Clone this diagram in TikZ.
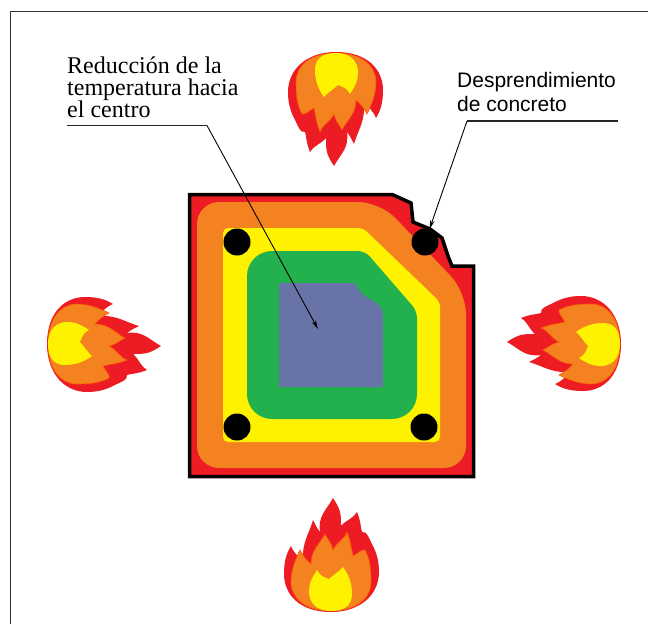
\documentclass[tikz,border=0pt]{standalone}
\usepackage{fontspec}
\setmainfont{Liberation Serif}
\newfontfamily\arialfont{Liberation Sans}
\usetikzlibrary{arrows.meta}

\definecolor{fuego}{HTML}{ED1C24}
\definecolor{naranja}{HTML}{F58220}
\definecolor{amarillo}{HTML}{FFF200}
\definecolor{verde}{HTML}{22B14C}
\definecolor{nucleo}{HTML}{6873A8}

\tikzset{
  flame/.pic={
    % outer tongues
    \fill[fuego] (0,0) .. controls +(-32,0) and +(0,20) .. (-47,-38)
      .. controls +(0,-12) and +(-5,8) .. (-40,-66)
      .. controls +(3,7) and +(-5,-3) .. (-28,-52)
      .. controls +(-1,-18) and +(-4,14) .. (-18,-92)
      .. controls +(3,6) and +(-3,-4) .. (-11,-80)
      .. controls +(-2,-16) and +(-8,14) .. (2,-114)
      .. controls +(8,12) and +(0,-12) .. (10,-86)
      .. controls +(5,-6) and +(-3,6) .. (26,-100)
      .. controls +(4,10) and +(-2,-8) .. (31,-80)
      .. controls +(5,-2) and +(-3,-5) .. (42,-66)
      .. controls +(4,8) and +(0,-10) .. (48,-40)
      .. controls +(0,22) and +(30,0) .. (0,0) -- cycle;
    % middle layer
    \fill[naranja, draw=orange!70!red, line width=0.6pt] (0,-1) .. controls +(-26,0) and +(0,16) .. (-40,-30)
      .. controls +(0,-12) and +(-4,8) .. (-31,-62)
      .. controls +(3,6) and +(-4,-3) .. (-20,-48)
      .. controls +(0,-14) and +(-5,10) .. (-6,-78)
      .. controls +(4,8) and +(-2,-8) .. (2,-62)
      .. controls +(4,-8) and +(-3,8) .. (16,-80)
      .. controls +(4,10) and +(-2,-8) .. (22,-56)
      .. controls +(5,-2) and +(-2,-6) .. (35,-60)
      .. controls +(4,8) and +(0,-12) .. (40,-30)
      .. controls +(0,16) and +(26,0) .. (0,-1) -- cycle;
    % hot core
    \fill[amarillo] (0,-1) .. controls +(-15,0) and +(0,10) .. (-22,-20)
      .. controls +(0,-10) and +(-4,6) .. (-14,-42)
      .. controls +(3,6) and +(-5,-2) .. (-2,-33)
      .. controls +(4,-4) and +(-3,4) .. (12,-45)
      .. controls +(6,8) and +(0,-10) .. (21,-18)
      .. controls +(0,10) and +(15,0) .. (0,-1) -- cycle;
  },
  barra/.style={circle, fill=black, inner sep=0pt, minimum size=27pt},
  flecha/.style={line width=0.9pt, -{Stealth[length=9pt,width=4.5pt]}},
  linea/.style={line width=1.5pt, black!85},
}

\begin{document}
\begin{tikzpicture}[x=1pt, y=-1pt]
\useasboundingbox (0,0) rectangle (648,624);

\draw[line width=1.5pt, black!80] (10.5,624) |- (648,11.5);

% fire on the four faces
\pic (fuegoS) at (331,612) {flame};
\pic[rotate=180] (fuegoN) at (336,52) {flame};
\pic[rotate=-90] (fuegoO) at (47,344) {flame};
\pic[rotate=90] (fuegoE) at (621,344) {flame};

% column with the broken corner
\filldraw[fuego, draw=black, line width=3.5pt] (189.5,194.5) -- (392,194.5) -- (400,198) -- (411,203) -- (413,222)
  -- (430,229) -- (442,238) -- (448,256) -- (452,266) -- (473.5,266) -- (473.5,476.5) -- (189.5,476.5) -- cycle;
\fill[naranja, rounded corners=22pt] (330,468) -- (197,468) -- (197,202) -- (380,202) -- (466,292) -- (466,468) -- cycle;
\fill[amarillo, rounded corners=5pt] (330,442) -- (223,442) -- (223,228) -- (363,228) -- (440,302) -- (440,442) -- cycle;
\fill[verde] (330,419) [rounded corners=25pt] -- (247,419) -- (247,251) [rounded corners=7pt] -- (365,251) -- (417,311)
  [rounded corners=25pt] -- (417,419) -- cycle;
\fill[nucleo] (279,283) -- (355,283) .. controls (358,292) and (366,297) .. (375,302)
  .. controls (381,306) and (383,310) .. (383,318) -- (383,387) -- (279,387) -- cycle;

\foreach \pos [count=\i] in {(237,242),(425,242),(237,427),(424,427)}
  \node[barra] (b\i) at \pos {};

% labels (base = last line)
\node[anchor=base west, inner sep=0pt, align=left, font=\fontsize{24}{21.8}\selectfont] (reduccion) at (67,117.5)
  {Reducción de la\\temperatura hacia\\el centro};
\node[anchor=base west, inner sep=0pt, align=left, font=\arialfont\fontsize{21}{24}\selectfont] (desprendimiento) at (457,111)
  {Desprendimiento\\de concreto};

\coordinate (ulA) at (67,125.5);
\coordinate (codoA) at (207,125.5);
\coordinate (centro) at (318,329);
\draw[linea] (ulA) -- (codoA);
\draw[flecha] (codoA) -- (centro);

\coordinate (ulB) at (618,121);
\coordinate (codoB) at (467,121);
\draw[linea] (ulB) -- (codoB);
\draw[flecha] (codoB) -- (b2);
\end{tikzpicture}
\end{document}
